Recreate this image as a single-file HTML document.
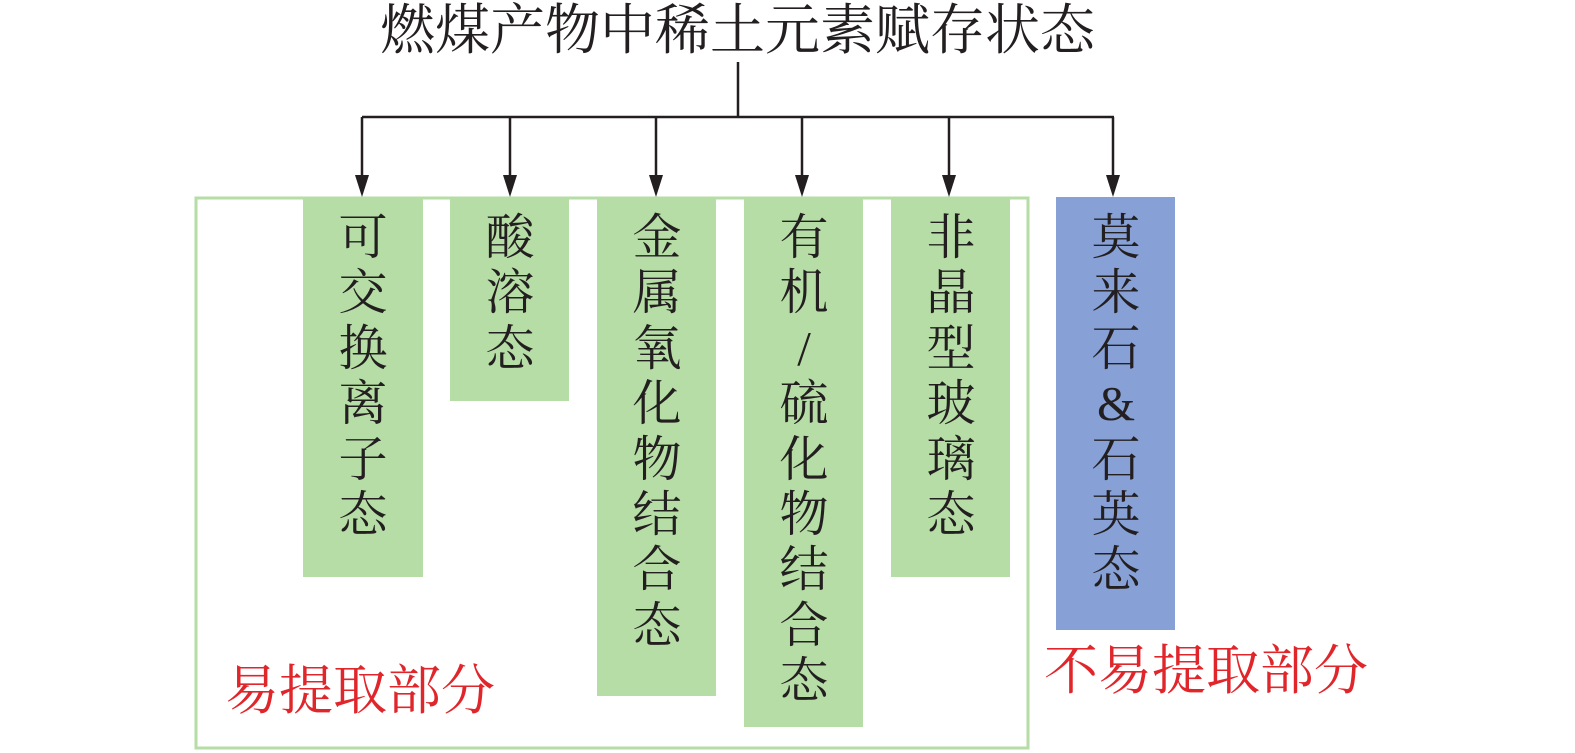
<!DOCTYPE html>
<html><head><meta charset="utf-8"><style>
html,body{margin:0;padding:0;background:#fff;}
body{width:1575px;height:753px;position:relative;overflow:hidden;font-family:"Liberation Serif","Noto Serif CJK SC",serif;}
.t{position:absolute;color:#231f20;}
.box{position:absolute;background:#b6dda6;}
.col{position:absolute;width:120px;text-align:center;font-size:49px;line-height:55.4px;color:#231f20;}
.red{position:absolute;color:#e0262b;font-size:54px;white-space:nowrap;}
</style></head><body>
<svg width="1575" height="753" style="position:absolute;left:0;top:0">
<rect x="196" y="198" width="832" height="550" fill="none" stroke="#b6dda6" stroke-width="3"/>
</svg>
<div class="box" style="left:303px;top:197px;width:120px;height:380px"></div>
<div class="box" style="left:450px;top:197px;width:119px;height:204px"></div>
<div class="box" style="left:597px;top:197px;width:119px;height:499px"></div>
<div class="box" style="left:744px;top:197px;width:119px;height:530px"></div>
<div class="box" style="left:891px;top:197px;width:119px;height:380px"></div>
<div class="box" style="left:1056px;top:197px;width:119px;height:433px;background:#87a0d5"></div>
<svg width="1575" height="753" style="position:absolute;left:0;top:0">
<g stroke="#231f20" stroke-width="2.5" fill="none">
<line x1="738" y1="62" x2="738" y2="117"/>
<line x1="362" y1="117" x2="1114" y2="117"/>
<line x1="362" y1="117" x2="362" y2="185"/>
<line x1="510" y1="117" x2="510" y2="185"/>
<line x1="656" y1="117" x2="656" y2="185"/>
<line x1="802" y1="117" x2="802" y2="185"/>
<line x1="949" y1="117" x2="949" y2="185"/>
<line x1="1113" y1="117" x2="1113" y2="185"/>
</g>
<g fill="#231f20">
<polygon points="355,175 369,175 362,197"/>
<polygon points="503,175 517,175 510,197"/>
<polygon points="649,175 663,175 656,197"/>
<polygon points="795,175 809,175 802,197"/>
<polygon points="942,175 956,175 949,197"/>
<polygon points="1106,175 1120,175 1113,197"/>
</g>
</svg>
<div class="t" style="left:380px;top:0px;font-size:55px;line-height:62px;white-space:nowrap">燃煤产物中稀土元素赋存状态</div>
<div class="col" style="left:303px;top:210px">可<br>交<br>换<br>离<br>子<br>态</div>
<div class="col" style="left:450px;top:210px">酸<br>溶<br>态</div>
<div class="col" style="left:597px;top:210px">金<br>属<br>氧<br>化<br>物<br>结<br>合<br>态</div>
<div class="col" style="left:744px;top:210px">有<br>机<br>/<br>硫<br>化<br>物<br>结<br>合<br>态</div>
<div class="col" style="left:891px;top:210px">非<br>晶<br>型<br>玻<br>璃<br>态</div>
<div class="col" style="left:1056px;top:210px">莫<br>来<br>石<br>&amp;<br>石<br>英<br>态</div>
<div class="red" style="left:225px;top:660px;line-height:62px">易提取部分</div>
<div class="red" style="left:1044px;top:640px;line-height:62px">不易提取部分</div>
</body></html>
